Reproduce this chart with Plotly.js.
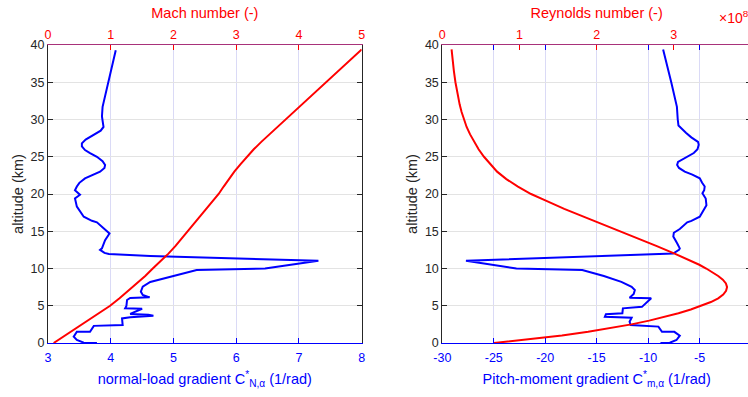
<!DOCTYPE html>
<html>
<head>
<meta charset="utf-8">
<script src="https://cdn.plot.ly/plotly-3.0.1.min.js"></script>
<style>
html,body{margin:0;padding:0;overflow:hidden;background:#fff;}
#chart{width:751px;height:397px;}
</style>
</head>
<body>
<div id="chart"></div>
<script>
// ---- data (altitude in km) ----
var cnAlt = [0,0.05,0.4,0.85,1.5,1.5,2.3,2.4,3.3,3.45,3.67,3.8,3.9,4.6,4.65,4.97,5.77,6.04,6.13,6.45,6.9,7.55,8.2,8.9,9.6,9.8,10.0,11.05,11.68,11.95,12.1,12.5,12.7,13.8,14.7,15.4,16.2,16.4,16.95,18.3,19.4,19.9,20.5,21.0,21.5,22.1,22.6,23.0,23.5,23.9,24.4,25.0,25.5,25.9,26.4,26.8,27.3,27.9,28.5,29.0,29.5,30.4,31.7,35.0,39.3];
var cnVal = [3.78,3.57,3.46,3.41,3.46,3.67,3.73,4.19,4.18,4.31,4.68,4.60,4.31,4.50,4.23,4.25,4.26,4.31,4.62,4.51,4.48,4.51,4.63,4.95,5.29,5.37,6.46,7.31,4.63,3.97,3.90,3.83,3.86,3.91,3.98,3.885,3.78,3.70,3.57,3.46,3.43,3.51,3.43,3.46,3.50,3.59,3.72,3.83,3.90,3.91,3.87,3.78,3.67,3.59,3.54,3.54,3.60,3.73,3.84,3.885,3.88,3.86,3.87,3.96,4.08];

var machAlt = [0,1,2,3,4,5,6,7,8,9,10,11,12,13,14,15,16,17,18,19,20,21,22,23,24,25,26,27,29,31,33,35,37,39.4];
var machVal = [0.09,0.27,0.46,0.64,0.82,0.99,1.14,1.28,1.42,1.55,1.67,1.80,1.92,2.03,2.13,2.23,2.33,2.43,2.53,2.63,2.72,2.80,2.88,2.97,3.07,3.17,3.28,3.40,3.66,3.92,4.18,4.43,4.69,5.00];

var cmAlt = [0,0.04,0.4,0.98,1.5,1.5,2.2,2.4,2.86,3.4,3.53,3.85,4.0,4.65,4.85,6.0,6.08,6.58,7.1,7.55,8.2,9.0,9.8,10.0,11.05,12.0,12.5,12.7,13.4,14.3,14.8,15.3,16.2,16.4,16.95,18.5,19.4,19.8,20.1,20.5,21.0,21.5,22.1,22.6,23.0,23.5,23.9,24.3,24.8,25.5,26.0,26.6,27.0,27.6,28.2,28.6,29.2,30.0,31.7,35.0,39.4];
var cmVal = [-8.8,-7.89,-7.24,-6.92,-7.45,-8.65,-9.0,-11.7,-11.8,-11.6,-14.2,-14.1,-12.5,-12.45,-10.6,-9.7,-11.8,-11.4,-11.29,-11.6,-12.6,-14.3,-16.4,-22.8,-27.7,-7.57,-7.0,-6.92,-7.18,-7.55,-7.5,-6.92,-6.2,-5.79,-4.98,-4.33,-4.40,-4.6,-4.72,-4.55,-4.5,-4.75,-4.98,-5.7,-6.44,-7.0,-7.18,-7.09,-6.5,-5.56,-5.2,-5.08,-5.15,-5.8,-6.3,-6.6,-7.05,-7.12,-7.2,-7.75,-8.54];

var reAlt = [0,0.5,1.0,1.5,2.0,2.5,3.0,3.5,4.0,4.5,5.0,5.5,6.0,6.5,7.0,7.5,8.0,8.5,9.0,9.5,10.0,10.5,11.0,11.5,12.0,13,14,15,16,17,18,19.2,20,21,22,23,24,25,26,27,28,29,30,31,32,33,34,35,36.5,38,39.4];
var reVal = [0.67,1.15,1.55,1.89,2.19,2.45,2.68,2.88,3.06,3.22,3.36,3.48,3.575,3.64,3.677,3.69,3.675,3.635,3.575,3.50,3.42,3.33,3.23,3.12,3.01,2.78,2.54,2.31,2.06,1.82,1.58,1.32,1.15,0.98,0.83,0.71,0.62,0.54,0.47,0.41,0.36,0.315,0.28,0.25,0.225,0.205,0.185,0.17,0.15,0.13,0.12];

var cnTicks = [3,4,5,6,7,8];
var machTicks = [0,1,2,3,4,5];
var cmTicks = [-30,-25,-20,-15,-10,-5,0];
var cmTickText = ['-30','-25','-20','-15','-10','-5','0'];
var reTicks = [0,1,2,3,4];
var altTicks = [0,5,10,15,20,25,30,35,40];

// ---- styling ----
var FONT = 'Liberation Sans, Arial, Helvetica, sans-serif';
var BLUE = '#0000ff', RED = '#ff0000', DARK = '#262626';
var TOPLINE = '#a8327a';
var TICKSZ = 12.5, TITLESZ = 14.5;

var traces = [
  {x: cnVal, y: cnAlt, xaxis:'x', yaxis:'y', mode:'lines', line:{color:BLUE, width:2}, hoverinfo:'skip'},
  {x: machVal, y: machAlt, xaxis:'x2', yaxis:'y', mode:'lines', line:{color:RED, width:2}, hoverinfo:'skip'},
  {x: cmVal, y: cmAlt, xaxis:'x3', yaxis:'y2', mode:'lines', line:{color:BLUE, width:2}, hoverinfo:'skip'},
  {x: reVal, y: reAlt, xaxis:'x4', yaxis:'y2', mode:'lines', line:{color:RED, width:2}, hoverinfo:'skip'}
];

function bottomAxis(dom, rng, tv, tt, title, anchor){
  var a = {domain:dom, range:rng, tickvals:tv, ticks:'inside', ticklen:5, tickcolor:BLUE,
    showline:true, linecolor:BLUE, linewidth:1, mirror:'ticks',
    tickfont:{family:FONT, size:TICKSZ, color:BLUE}, ticklabelstandoff:3,
    showgrid:true, gridcolor:'#dadaf6', gridwidth:1, zeroline:false, anchor:anchor,
    title:{text:title, font:{family:FONT, size:TITLESZ, color:BLUE}, standoff:9}, fixedrange:true};
  if (tt) a.ticktext = tt;
  return a;
}
function topAxis(over, rng, tv, title, anchor){
  return {overlaying:over, side:'top', anchor:anchor, range:rng, tickvals:tv, ticks:'inside', ticklen:5,
    tickcolor:RED, showline:true, linecolor:TOPLINE, linewidth:1.5,
    tickfont:{family:FONT, size:TICKSZ, color:RED}, showgrid:false, zeroline:false,
    title:{text:title, font:{family:FONT, size:TITLESZ, color:RED}, standoff:5}, fixedrange:true};
}
function leftAxis(anchor){
  return {domain:[0,1], range:[0,40], tickvals:altTicks, ticks:'inside', ticklen:5, tickcolor:DARK,
    showline:true, linecolor:DARK, linewidth:1, mirror:'ticks', anchor:anchor,
    tickfont:{family:FONT, size:TICKSZ, color:DARK}, showgrid:true, gridcolor:'#e3e3e3', zeroline:false,
    title:{text:'altitude (km)', font:{family:FONT, size:TITLESZ, color:DARK}, standoff:3}, fixedrange:true};
}

var layout = {
  width:751, height:397,
  margin:{l:48, r:0, t:45, b:54},
  paper_bgcolor:'#ffffff', plot_bgcolor:'#ffffff',
  showlegend:false,
  font:{family:FONT, size:TICKSZ, color:DARK},
  xaxis: bottomAxis([0,0.4462],[3,8],cnTicks,null,'normal-load gradient C<sup>*</sup><sub>N,α</sub> (1/rad)','y'),
  xaxis2: topAxis('x',[0,5],machTicks,'Mach number (-)','y'),
  xaxis3: bottomAxis([0.5609,1],[-30,0],cmTicks,cmTickText,'Pitch-moment gradient C<sup>*</sup><sub>m,α</sub> (1/rad)','y2'),
  xaxis4: topAxis('x3',[0,4],reTicks,'Reynolds number (-)','y2'),
  yaxis: leftAxis('x'),
  yaxis2: leftAxis('x3'),
  annotations:[
    {xref:'paper', yref:'paper', x:0.951, y:1.093, xanchor:'left', yanchor:'middle',
     text:'×10<sup>8</sup>', showarrow:false, font:{family:FONT, size:14, color:RED}}
  ]
};

Plotly.newPlot('chart', traces, layout, {staticPlot:true, displayModeBar:false});
</script>
</body>
</html>
